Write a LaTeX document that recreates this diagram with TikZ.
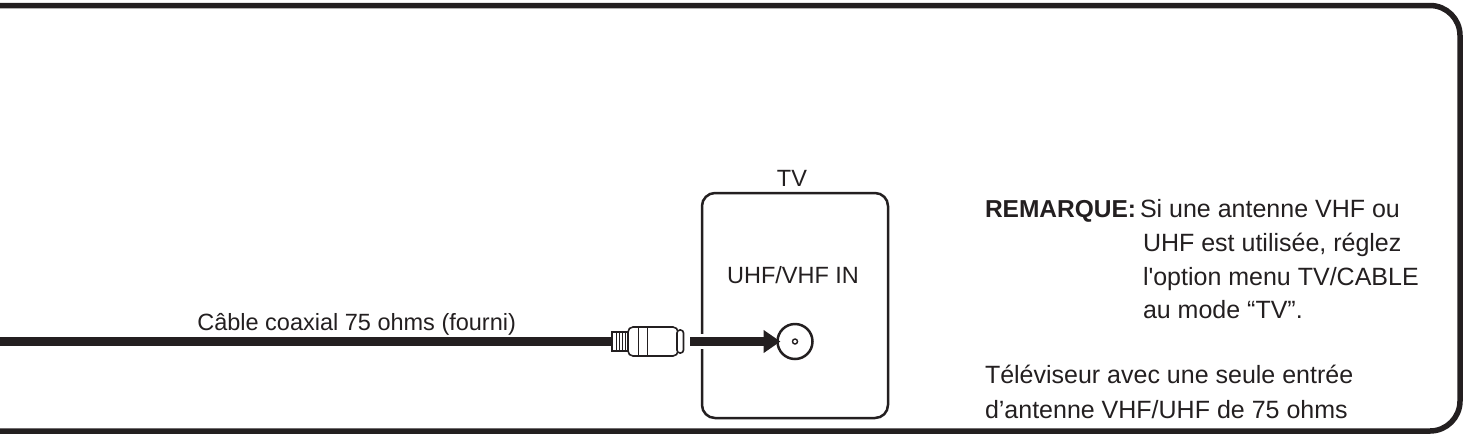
\documentclass[tikz,border=0pt]{standalone}
\usepackage{fontspec}
\setmainfont{Liberation Sans}
\newfontfamily\plainquote{Liberation Sans}[Ligatures=TeXOff]
\usetikzlibrary{arrows.meta}
\definecolor{ink}{HTML}{231F20}
\tikzset{
  txt/.style={inner sep=0pt, outer sep=0pt, text=ink, font=\fontsize{23.5}{28}\selectfont},
  notetxt/.style={txt, font=\fontsize{25}{30}\selectfont},
  boldtxt/.style={txt, font=\fontsize{24.5}{30}\selectfont\bfseries},
  frameline/.style={draw=ink, line width=5.5pt, rounded corners=30pt},
  tvbox/.style={draw=ink, line width=2.5pt, rounded corners=13pt, minimum width=186pt, minimum height=225pt, inner sep=0pt, outer sep=0pt},
  jackring/.style={circle, draw=ink, line width=2.5pt, minimum size=35pt, inner sep=0pt, outer sep=0pt},
  cableline/.style={draw=ink, line width=9pt},
  plugline/.style={draw=ink, line width=1.6pt, fill=white},
  plugthin/.style={draw=ink, line width=1pt},
  arrowline/.style={draw=ink, line width=8.5pt, -{Triangle[length=17pt, width=22pt]}},
}
\begin{document}
\begin{tikzpicture}[x=1pt, y=-1pt]
\useasboundingbox (0,0) rectangle (1464,437);
\clip (0,0) rectangle (1464,437);
% outer frame (open on the left)
\draw[frameline] (-10,5.5) -- (1460,5.5) -- (1460,431) -- (-10,431);

% TV box
\node[tvbox] (tv) at (795,305.5) {};
\node[txt, anchor=base] (tvlbl) at (792,186) {TV};
\node[txt, anchor=base] (inlbl) at (793,283) {UHF/VHF IN};
\node[jackring] (jack) at (795,341.5) {};
\node[circle, draw=ink, line width=1.4pt, minimum size=5pt, inner sep=0pt] (pin) at (jack.center) {};

% cable
\coordinate (cableL) at (-10,341.5);
\coordinate (plugL) at (613,341.5);
\draw[cableline] (cableL) -- (plugL);
\node[txt, anchor=base east] (cablelbl) at (516,330) {Câble coaxial 75 ohms (fourni)};

% plug
\draw[plugline] (612,332) rectangle (628,351);
\foreach \x in {616,619,622,625} \draw[plugthin] (\x,332) -- (\x,351);
\draw[plugline, rounded corners=5pt] (628,327) rectangle (678,356);
\draw[plugthin] (638,327) -- (638,356);
\draw[plugthin] (647,327) -- (647,356);
\draw[plugline, rounded corners=3pt] (677,330) rectangle (683.5,353);
\coordinate (plugR) at (690,341.5);

% arrow into the jack, with a gap in the box edge
\draw[white, line width=15pt] ([xshift=-3pt]tv.west |- plugR) -- ([xshift=3pt]tv.west |- plugR);
\draw[arrowline] (plugR) -- ([xshift=3pt]jack.west);

% note
\node[boldtxt, anchor=base west] (rem) at (985,217) {REMARQUE:};
\node[notetxt, anchor=base west] (r1) at (1140,217) {Si une antenne VHF ou};
\node[notetxt, anchor=base west] (r2) at (1143,251.5) {UHF est utilisée, réglez};
\node[notetxt, anchor=base west] (r3) at (1143,285) {l{\plainquote'}option menu TV/CABLE};
\node[notetxt, anchor=base west] (r4) at (1143,318) {au mode “TV”.};
\node[notetxt, anchor=base west] (t1) at (985,383) {Téléviseur avec une seule entrée};
\node[notetxt, anchor=base west] (t2) at (985,418) {d’antenne VHF/UHF de 75 ohms};
\end{tikzpicture}
\end{document}
